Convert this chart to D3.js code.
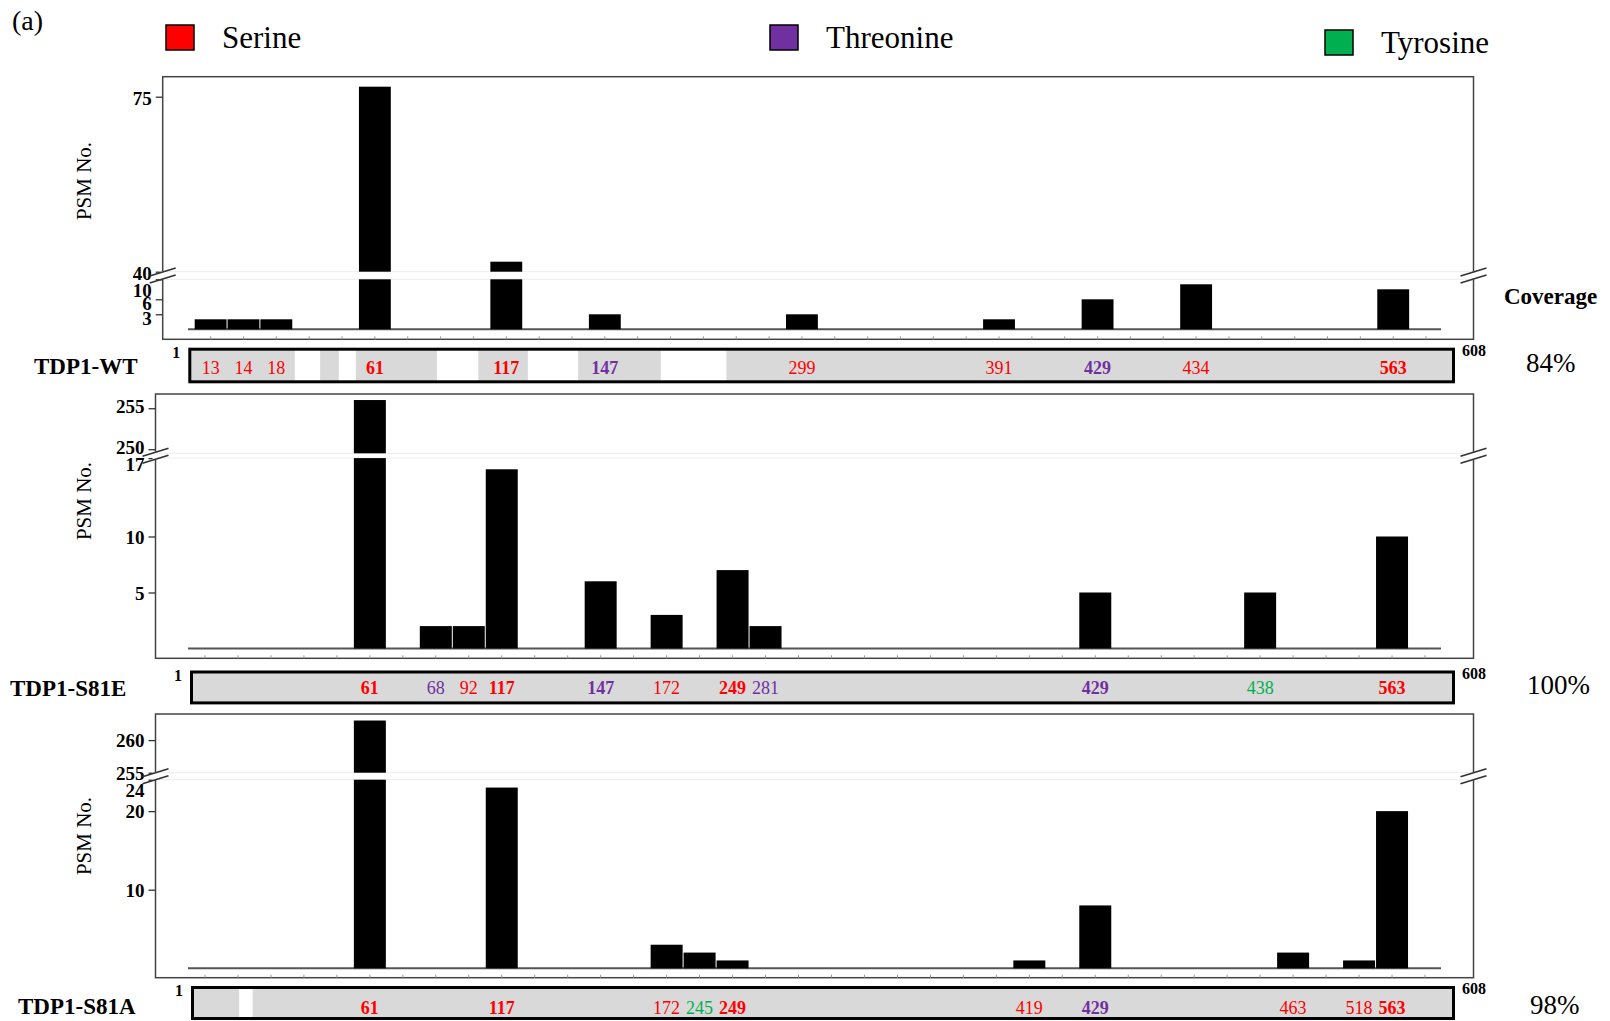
<!DOCTYPE html>
<html>
<head>
<meta charset="utf-8">
<script src="https://cdn.jsdelivr.net/npm/d3@7"></script>
<style>
  body { margin: 0; background: #fff; }
  svg { display: block; }
</style>
</head>
<body>
<svg id="chart" width="1610" height="1021"></svg>
<script>
// residue types and their colours
const residueTypes = ['S', 'T', 'Y']
const residueNames = ['Serine', 'Threonine', 'Tyrosine']
const residueColors = ['#ff0000', '#7030a0', '#00b050']

// number of site slots along the protein axis
const slotCount = 38

// TDP1-WT
const wtSites = [13, 14, 18, 61, 117, 147, 299, 391, 429, 434, 563]
const wtSlots = [0, 1, 2, 5, 9, 12, 18, 24, 27, 30, 36]
const wtPsm = [2, 2, 2, 77, 42, 3, 3, 2, 6, 9, 8]
const wtTypes = ['S', 'S', 'S', 'S', 'S', 'T', 'S', 'S', 'T', 'S', 'S']
const wtKeySites = [61, 117, 147, 429, 563]
const wtUncovered = [[3.05, 3.82], [4.39, 4.91], [7.38, 8.64], [10.15, 11.68], [14.2, 16.2]]
const wtLowTicks = [3, 6, 10]
const wtHighTicks = [40, 75]
const wtCoverage = '84%'

// TDP1-S81E
const s81eSites = [61, 68, 92, 117, 147, 172, 249, 281, 429, 438, 563]
const s81eSlots = [5, 7, 8, 9, 12, 14, 16, 17, 27, 32, 36]
const s81ePsm = [256, 2, 2, 16, 6, 3, 7, 2, 5, 5, 10]
const s81eTypes = ['S', 'T', 'S', 'S', 'T', 'S', 'S', 'T', 'T', 'Y', 'S']
const s81eKeySites = [61, 117, 147, 249, 429, 563]
const s81eUncovered = []
const s81eLowTicks = [5, 10, 17]
const s81eHighTicks = [250, 255]
const s81eCoverage = '100%'

// TDP1-S81A
const s81aSites = [61, 117, 172, 245, 249, 419, 429, 463, 518, 563]
const s81aSlots = [5, 9, 14, 15, 16, 25, 27, 33, 35, 36]
const s81aPsm = [263, 23, 3, 2, 1, 1, 8, 2, 1, 20]
const s81aTypes = ['S', 'S', 'S', 'Y', 'S', 'S', 'T', 'S', 'S', 'S']
const s81aKeySites = [61, 117, 249, 429, 563]
const s81aUncovered = [[1.52, 1.93]]
const s81aLowTicks = [10, 20, 24]
const s81aHighTicks = [255, 260]
const s81aCoverage = '98%'

const serif = "'Liberation Serif', 'Times New Roman', serif"

// layout of each panel (pixels) + the data above
const panels = [
  {
    name: 'TDP1-WT', sites: wtSites, slots: wtSlots, psm: wtPsm, types: wtTypes,
    key: wtKeySites, uncovered: wtUncovered, lowTicks: wtLowTicks, highTicks: wtHighTicks, coverage: wtCoverage,
    frame: [162.7, 1473.5, 76.7, 339.3], base: 329.3, slotX: [194.7, 1442],
    low: [[0, 10], [329.3, 279.3]], high: [[40, 79], [271.7, 76.7]], labelDy: [4, 1],
    cov: [188.3, 1455, 347.7, 383.3], covText: 374, nameXY: [34, 374], pctXY: [1526, 372], titleY: 181
  },
  {
    name: 'TDP1-S81E', sites: s81eSites, slots: s81eSlots, psm: s81ePsm, types: s81eTypes,
    key: s81eKeySites, uncovered: s81eUncovered, lowTicks: s81eLowTicks, highTicks: s81eHighTicks, coverage: s81eCoverage,
    frame: [155.5, 1473.5, 394, 658.3], base: 648.5, slotX: [189, 1441],
    low: [[0, 17], [648.5, 458.1]], high: [[249.5, 256.7], [453.3, 394.3]], labelDy: [0, -2],
    cov: [190, 1455, 670.5, 704.4], covText: 694, nameXY: [10, 696], pctXY: [1527, 694], titleY: 501
  },
  {
    name: 'TDP1-S81A', sites: s81aSites, slots: s81aSlots, psm: s81aPsm, types: s81aTypes,
    key: s81aKeySites, uncovered: s81aUncovered, lowTicks: s81aLowTicks, highTicks: s81aHighTicks, coverage: s81aCoverage,
    frame: [155.5, 1473.5, 714, 977.7], base: 968.3, slotX: [189, 1441],
    low: [[0, 24], [968.3, 779.7]], high: [[255, 264], [772.7, 714]], labelDy: [0, 0],
    cov: [191, 1455, 986, 1020], covText: 1014, nameXY: [18, 1014], pctXY: [1530, 1014], titleY: 836
  }
]

const svg = d3.select('#chart')

// top legend
svg.append('text').attr('x', 12).attr('y', 30)
  .attr('font-family', serif).attr('font-size', 28).text('(a)')

const legendX = [166, 770, 1325]
const legendY = [25, 25, 30]
residueNames.forEach((name, i) => {
  svg.append('rect')
    .attr('x', legendX[i]).attr('y', legendY[i]).attr('width', 28).attr('height', 25)
    .attr('fill', residueColors[i]).attr('stroke', '#000').attr('stroke-width', 1.5)
  svg.append('text')
    .attr('x', legendX[i] + 56).attr('y', legendY[i] + 23)
    .attr('font-family', serif).attr('font-size', 31).text(name)
})

svg.append('text').attr('x', 1504).attr('y', 304)
  .attr('font-family', serif).attr('font-size', 23).attr('font-weight', 'bold').text('Coverage')

function breakMark(g, cx, cy) {
  g.append('rect').attr('x', cx - 3).attr('y', cy - 4).attr('width', 6).attr('height', 8).attr('fill', '#fff')
  ;[-3.5, 3.5].forEach(dy => {
    g.append('line')
      .attr('x1', cx - 13).attr('y1', cy + dy + 4)
      .attr('x2', cx + 13).attr('y2', cy + dy - 4)
      .attr('stroke', '#333').attr('stroke-width', 1.6)
  })
}

panels.forEach(p => {
  const g = svg.append('g')
  const [fx0, fx1, fy0, fy1] = p.frame

  const x = d3.scaleBand().domain(d3.range(slotCount)).range(p.slotX).paddingInner(0.03)
  const slotLin = d3.scaleLinear().domain([0, slotCount]).range(p.slotX)
  const yLow = d3.scaleLinear().domain(p.low[0]).range(p.low[1])
  const yHigh = d3.scaleLinear().domain(p.high[0]).range(p.high[1])
  const gapTop = p.high[1][0]
  const gapBottom = p.low[1][1]
  const lowMax = p.low[0][1]

  const rows = p.sites.map((s, i) => ({
    site: s, slot: p.slots[i], psm: p.psm[i],
    color: residueColors[residueTypes.indexOf(p.types[i])],
    bold: p.key.includes(s)
  }))

  // faint lines at the axis break
  ;[gapTop, gapBottom].forEach(y => {
    g.append('line').attr('x1', fx0).attr('x2', fx1).attr('y1', y).attr('y2', y)
      .attr('stroke', '#f1ecec').attr('stroke-width', 1)
  })

  // frame
  g.append('rect').attr('x', fx0).attr('y', fy0)
    .attr('width', fx1 - fx0).attr('height', fy1 - fy0)
    .attr('fill', 'none').attr('stroke', '#444').attr('stroke-width', 1.5)

  // tiny slot ticks along the bottom of the frame
  const xAxis = g.append('g').attr('transform', `translate(0,${fy1})`)
    .call(d3.axisBottom(x).tickSize(-3).tickFormat(''))
  xAxis.select('.domain').remove()
  xAxis.selectAll('line').attr('stroke', '#999')

  // baseline
  g.append('line').attr('x1', 188).attr('x2', 1441).attr('y1', p.base).attr('y2', p.base)
    .attr('stroke', '#555').attr('stroke-width', 2)

  // bars, split at the break when tall
  const lowBars = rows.map(d => ({ ...d, top: d.psm <= lowMax ? yLow(d.psm) : yLow(lowMax) }))
  g.selectAll('.bar-low')
    .data(lowBars)
    .join('rect')
    .attr('class', 'bar-low')
    .attr('x', d => x(d.slot))
    .attr('width', x.bandwidth())
    .attr('y', d => d.top)
    .attr('height', d => p.base - d.top)
    .attr('fill', '#000')

  g.selectAll('.bar-high')
    .data(rows.filter(d => d.psm > lowMax))
    .join('rect')
    .attr('class', 'bar-high')
    .attr('x', d => x(d.slot))
    .attr('width', x.bandwidth())
    .attr('y', d => yHigh(d.psm))
    .attr('height', d => gapTop - yHigh(d.psm))
    .attr('fill', '#000')

  // y axes (lower and upper segment)
  const lowTop = d3.max(p.lowTicks)
  const highBottom = d3.min(p.highTicks)
  // keep the two labels next to the break from sitting on each other
  const highBottomY = yHigh(highBottom) + p.labelDy[1]
  const lowTopShift = Math.max(p.labelDy[0], highBottomY + 17 - yLow(lowTop))

  ;[[yLow, p.lowTicks, 0], [yHigh, p.highTicks, 1]].forEach(([sc, ticks, k]) => {
    const ax = g.append('g').attr('transform', `translate(${fx0},0)`)
      .call(d3.axisLeft(sc).tickValues(ticks).tickSize(7).tickPadding(4))
    ax.select('.domain').remove()
    ax.selectAll('line').attr('stroke', '#333').attr('stroke-width', 1.3)
    ax.selectAll('text')
      .attr('font-family', serif).attr('font-size', 19).attr('font-weight', 'bold')
      .attr('fill', '#000').attr('dy', '0.35em')
      .attr('y', d => (k === 0 && d === lowTop) ? lowTopShift : p.labelDy[k])
  })

  // break marks on both sides
  const cy = (gapTop + gapBottom) / 2
  breakMark(g, fx0, cy)
  breakMark(g, fx1, cy)

  // y title
  g.append('text')
    .attr('transform', `translate(91,${p.titleY}) rotate(-90)`)
    .attr('text-anchor', 'middle')
    .attr('font-family', serif).attr('font-size', 21)
    .text('PSM No.')

  // coverage strip
  const [cx0, cx1, cy0, cy1] = p.cov
  g.append('rect').attr('x', cx0 + 1.5).attr('y', cy0 + 1.5)
    .attr('width', cx1 - cx0 - 3).attr('height', cy1 - cy0 - 3)
    .attr('fill', '#d9d9d9')
  g.selectAll('.gap')
    .data(p.uncovered)
    .join('rect')
    .attr('class', 'gap')
    .attr('x', d => slotLin(d[0]))
    .attr('width', d => slotLin(d[1]) - slotLin(d[0]))
    .attr('y', cy0 + 1.5).attr('height', cy1 - cy0 - 3)
    .attr('fill', '#fff')
  g.append('rect').attr('x', cx0 + 1.5).attr('y', cy0 + 1.5)
    .attr('width', cx1 - cx0 - 3).attr('height', cy1 - cy0 - 3)
    .attr('fill', 'none').attr('stroke', '#000').attr('stroke-width', 3)

  g.selectAll('.site')
    .data(rows)
    .join('text')
    .attr('class', 'site')
    .attr('x', d => x(d.slot) + x.bandwidth() / 2)
    .attr('y', p.covText)
    .attr('text-anchor', 'middle')
    .attr('font-family', serif).attr('font-size', 18)
    .attr('font-weight', d => d.bold ? 'bold' : 'normal')
    .attr('fill', d => d.color)
    .text(d => d.site)

  g.append('text').attr('x', cx0 - 8).attr('y', cy0 + 10)
    .attr('text-anchor', 'end')
    .attr('font-family', serif).attr('font-size', 16).attr('font-weight', 'bold').text('1')
  g.append('text').attr('x', cx1 + 7).attr('y', cy0 + 8)
    .attr('font-family', serif).attr('font-size', 16).attr('font-weight', 'bold').text('608')

  g.append('text').attr('x', p.nameXY[0]).attr('y', p.nameXY[1])
    .attr('font-family', serif).attr('font-size', 23).attr('font-weight', 'bold').text(p.name)
  g.append('text').attr('x', p.pctXY[0]).attr('y', p.pctXY[1])
    .attr('font-family', serif).attr('font-size', 27).text(p.coverage)
})
</script>
</body>
</html>
